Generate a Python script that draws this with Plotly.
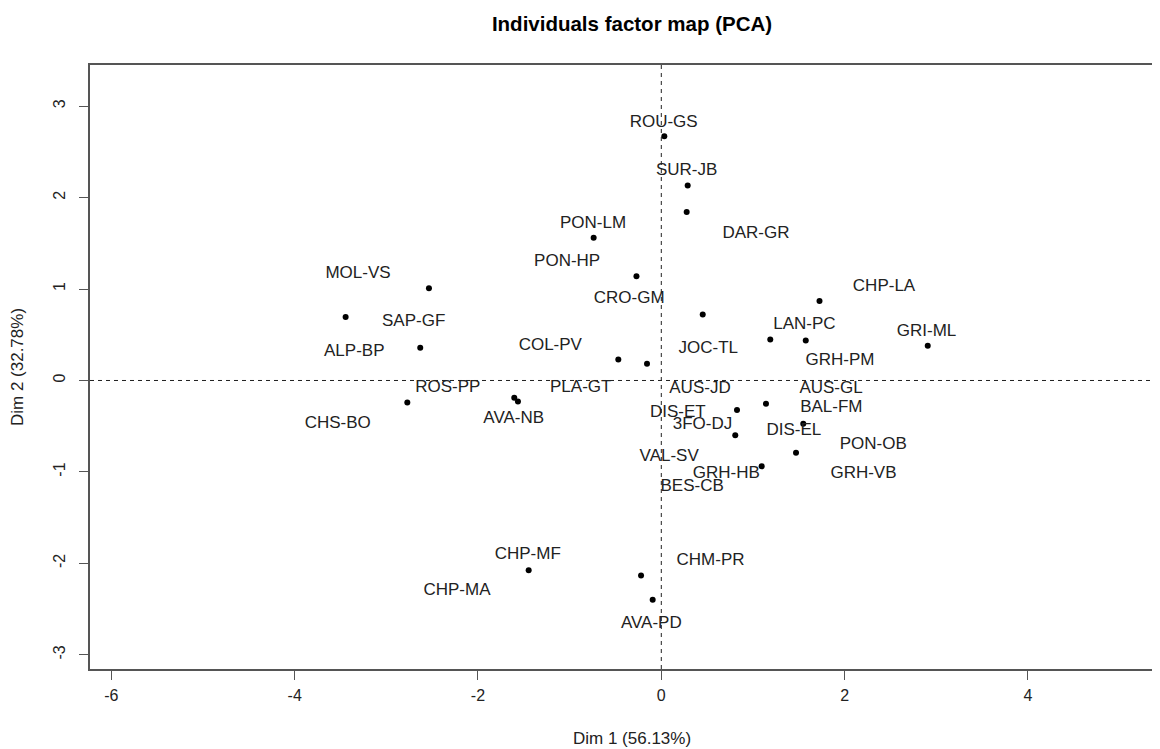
import plotly.graph_objects as go

# Individuals (points) on Dim 1 / Dim 2
pts_dim1 = [0.033, 0.288, 0.277, -0.738, -0.271, 1.726, -2.535, -3.444, -2.630,
            0.452, 1.189, 1.576, 2.907, -0.469, -0.156, -2.771, -1.604, -1.564,
            1.142, 0.826, 0.807, 1.549, 1.470, 1.095, -1.447, -0.221, -0.094]
pts_dim2 = [2.671, 2.132, 1.842, 1.561, 1.141, 0.870, 1.008, 0.695, 0.357,
            0.721, 0.448, 0.437, 0.379, 0.229, 0.182, -0.240, -0.189, -0.229,
            -0.254, -0.324, -0.600, -0.473, -0.789, -0.939, -2.074, -2.132, -2.397]

# Labels and their placed positions
lab_names = ["ROU-GS", "SUR-JB", "DAR-GR", "PON-LM", "PON-HP", "CRO-GM", "CHP-LA",
             "GRI-ML", "MOL-VS", "SAP-GF", "ALP-BP", "ROS-PP", "CHS-BO", "AVA-NB",
             "COL-PV", "PLA-GT", "LAN-PC", "JOC-TL", "GRH-PM", "AUS-JD", "AUS-GL",
             "BAL-FM", "DIS-ET", "3FO-DJ", "DIS-EL", "PON-OB", "GRH-VB", "GRH-HB",
             "VAL-SV", "BES-CB", "CHP-MF", "CHP-MA", "CHM-PR", "AVA-PD"]
lab_dim1 = [0.026, 0.277, 1.033, -0.745, -1.027, -0.350, 2.430,
            2.894, -3.309, -2.702, -3.350, -2.330, -3.530, -1.610,
            -1.211, -0.879, 1.562, 0.512, 1.950, 0.422, 1.852,
            1.855, 0.180, 0.450, 1.446, 2.313, 2.206, 0.709,
            0.086, 0.337, -1.457, -2.229, 0.537, -0.109]
lab_dim2 = [2.818, 2.291, 1.607, 1.713, 1.301, 0.894, 1.020,
            0.529, 1.167, 0.646, 0.318, -0.075, -0.471, -0.416,
            0.381, -0.075, 0.606, 0.348, 0.220, -0.093, -0.093,
            -0.293, -0.355, -0.489, -0.547, -0.708, -1.024, -1.021,
            -0.839, -1.163, -1.901, -2.294, -1.967, -2.659]

x_ticks = [-6, -4, -2, 0, 2, 4]
y_ticks = [-3, -2, -1, 0, 1, 2, 3]

FONT = "Liberation Sans, Arial, sans-serif"

# the page body adds an 8px offset, so the figure is 8px smaller on each side
W, H = 1152, 741
L, T, B = 82, 57, 80
PW, PH = W - L, H - T - B

fig = go.Figure()
fig.add_trace(go.Scatter(x=pts_dim1, y=pts_dim2, mode="markers",
                         marker=dict(color="black", size=6), showlegend=False,
                         hoverinfo="skip"))
fig.add_trace(go.Scatter(x=lab_dim1, y=lab_dim2, mode="text", text=lab_names,
                         textposition="middle center",
                         textfont=dict(family=FONT, size=17, color="#222"),
                         showlegend=False, hoverinfo="skip"))

# dashed reference lines
fig.add_shape(type="line", xref="x", yref="paper", x0=0, x1=0, y0=0, y1=1,
              line=dict(color="#222", width=1, dash="4px,4px"))
fig.add_shape(type="line", xref="paper", yref="y", x0=0, x1=1, y0=0, y1=0,
              line=dict(color="#222", width=1, dash="4px,4px"))

fig.update_layout(
    width=W, height=H,
    margin=dict(l=L, r=0, t=T, b=B, pad=0),
    plot_bgcolor="white", paper_bgcolor="white",
    font=dict(family=FONT, color="#222"),
    title=dict(text="<b>Individuals factor map (PCA)</b>", x=(632 - 8) / W, xanchor="center",
               y=1 - (24 - 8) / H, yanchor="middle", font=dict(size=20.5, family=FONT, color="black")),
    xaxis=dict(range=[-6.233, 5.441], tickvals=x_ticks, ticktext=[str(v) for v in x_ticks],
               showgrid=False, zeroline=False, showline=True, linecolor="#555", linewidth=1.5,
               mirror=True, ticks="outside", ticklen=9, tickcolor="#555", tickwidth=1,
               ticklabelstandoff=2,
               tickfont=dict(size=16, family=FONT, color="#222")),
    yaxis=dict(range=[-3.155, 3.45], tickvals=y_ticks, ticktext=[str(v) for v in y_ticks],
               showgrid=False, zeroline=False, showline=True, linecolor="#555", linewidth=1.5,
               mirror=False, ticks="outside", ticklen=9, tickcolor="#555", tickwidth=1,
               ticklabelstandoff=8,
               tickangle=-90, tickfont=dict(size=16, family=FONT, color="#222"),
               title=dict(text="Dim 2 (32.78%)", font=dict(size=17, family=FONT, color="#222"),
                          standoff=29)),
    annotations=[dict(text="Dim 1 (56.13%)", xref="paper", yref="paper",
                      x=(632 - 90) / PW, y=-(739 - 670) / PH, xanchor="center",
                      yanchor="middle", showarrow=False,
                      font=dict(size=17, family=FONT, color="#222"))],
)

fig.write_html("out.html")
